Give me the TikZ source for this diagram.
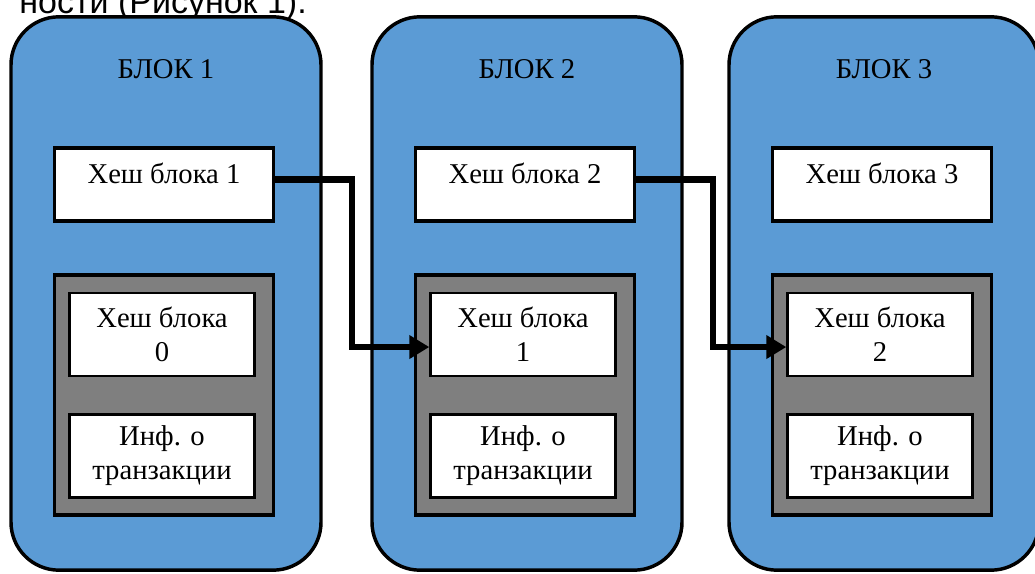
\documentclass[tikz,border=0pt]{standalone}
\usepackage{fontspec}
\setmainfont{Liberation Serif}
\newfontfamily\capfont{Liberation Sans}
\usetikzlibrary{arrows.meta}
\definecolor{blokblue}{RGB}{91,155,213}
\definecolor{txgray}{RGB}{127,127,127}

\begin{document}
\begin{tikzpicture}[x=0.75pt,y=-0.75pt,>={Triangle[length=15pt,width=17pt]},
    every node/.style={font=\fontsize{21.5}{25.5}\selectfont},
    blok/.style={draw,line width=2.6pt,fill=blokblue,rounded corners=36pt,minimum width=232.5pt,minimum height=415pt},
    hashbox/.style={draw,line width=2.6pt,fill=white,minimum width=164pt,inner ysep=0pt,text height=26.5pt,text depth=28.25pt},
    txbox/.style={draw,line width=2.6pt,fill=txgray,minimum width=164pt,minimum height=180pt},
    cell/.style={draw,line width=1.8pt,fill=white,minimum width=138.75pt,minimum height=62.5pt,align=center,inner sep=0pt},
    link/.style={->,line width=4.8pt}]
  \useasboundingbox (0,0) rectangle (1035,574);
  \node[anchor=base east,inner sep=0pt,font=\capfont\fontsize{25.5}{30}\selectfont] (cap) at (307,13.5) {ности (Рисунок 1).};
  % block 1
  \node[blok] (b1) at (166,293.5) {};
  \node[anchor=base] (n1) at ([yshift=-47.5pt]b1.north) {БЛОК 1};
  \node[hashbox] (h1) at (164,184.5) {Хеш блока 1};
  \node[txbox] (t1) at (164,395) {};
  \node[cell] (p1) at (162,334.5) {Хеш блока\\0};
  \node[cell] (i1) at (162,456) {Инф. о\\транзакции};
  % block 2
  \node[blok] (b2) at (527,293.5) {};
  \node[anchor=base] (n2) at ([yshift=-47.5pt]b2.north) {БЛОК 2};
  \node[hashbox] (h2) at (525,184.5) {Хеш блока 2};
  \node[txbox] (t2) at (525,395) {};
  \node[cell] (p2) at (523,334.5) {Хеш блока\\1};
  \node[cell] (i2) at (523,456) {Инф. о\\транзакции};
  % block 3
  \node[blok] (b3) at (884,293.5) {};
  \node[anchor=base] (n3) at ([yshift=-47.5pt]b3.north) {БЛОК 3};
  \node[hashbox] (h3) at (882,184.5) {Хеш блока 3};
  \node[txbox] (t3) at (882,395) {};
  \node[cell] (p3) at (880,334.5) {Хеш блока\\2};
  \node[cell] (i3) at (880,456) {Инф. о\\транзакции};
  % links
  \draw[link] ([yshift=3.75pt]h1.east) -- ++(77,0) |- ([yshift=-9.4pt]p2.west);
  \draw[link] ([yshift=3.75pt]h2.east) -- ++(77,0) |- ([yshift=-9.4pt]p3.west);
\end{tikzpicture}
\end{document}
